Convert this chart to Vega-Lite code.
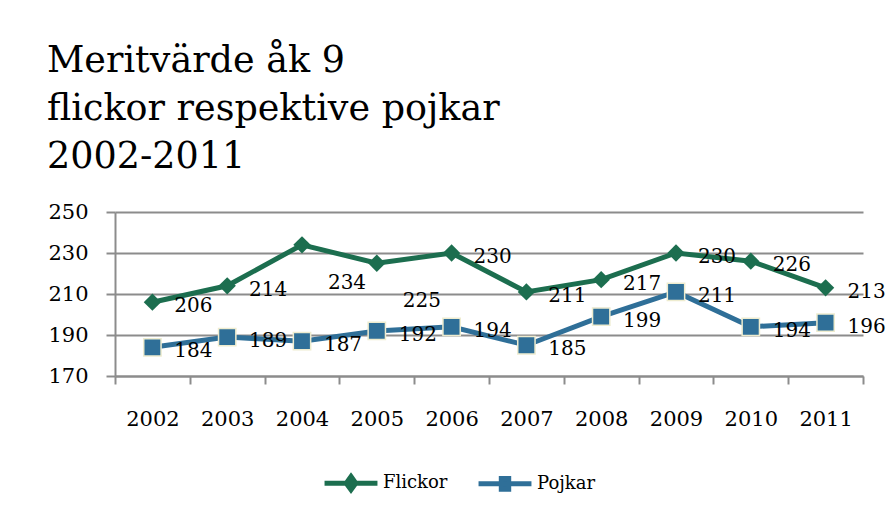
{
  "$schema": "https://vega.github.io/schema/vega-lite/v6.json",
  "autosize": {"type": "none"},
  "width": 748,
  "height": 164,
  "padding": {"left": 115, "top": 212, "right": 23, "bottom": 134},
  "background": "white",
  "title": {
    "text": ["Meritvärde åk 9", "flickor respektive pojkar", "2002-2011"],
    "anchor": "start",
    "frame": "group",
    "dx": -68,
    "offset": 26,
    "font": "DejaVu Serif",
    "fontSize": 36.5,
    "fontWeight": "normal",
    "lineHeight": 48,
    "color": "#000000"
  },
  "data": {
    "values": [
      {"year": "2002", "series": "Flickor", "value": 206},
      {"year": "2003", "series": "Flickor", "value": 214},
      {"year": "2004", "series": "Flickor", "value": 234},
      {"year": "2005", "series": "Flickor", "value": 225},
      {"year": "2006", "series": "Flickor", "value": 230},
      {"year": "2007", "series": "Flickor", "value": 211},
      {"year": "2008", "series": "Flickor", "value": 217},
      {"year": "2009", "series": "Flickor", "value": 230},
      {"year": "2010", "series": "Flickor", "value": 226},
      {"year": "2011", "series": "Flickor", "value": 213},
      {"year": "2002", "series": "Pojkar", "value": 184},
      {"year": "2003", "series": "Pojkar", "value": 189},
      {"year": "2004", "series": "Pojkar", "value": 187},
      {"year": "2005", "series": "Pojkar", "value": 192},
      {"year": "2006", "series": "Pojkar", "value": 194},
      {"year": "2007", "series": "Pojkar", "value": 185},
      {"year": "2008", "series": "Pojkar", "value": 199},
      {"year": "2009", "series": "Pojkar", "value": 211},
      {"year": "2010", "series": "Pojkar", "value": 194},
      {"year": "2011", "series": "Pojkar", "value": 196}
    ]
  },
  "encoding": {
    "x": {
      "field": "year",
      "type": "ordinal",
      "scale": {"type": "band", "paddingInner": 0, "paddingOuter": 0},
      "axis": {
        "title": null,
        "labelAngle": 0,
        "tickBand": "extent",
        "domainColor": "#8c8c8c",
        "domainWidth": 2,
        "tickColor": "#8c8c8c",
        "tickWidth": 2,
        "tickSize": 8,
        "labelPadding": 24,
        "labelFont": "DejaVu Serif",
        "labelFontSize": 21,
        "labelColor": "#000000",
        "grid": false
      }
    },
    "y": {
      "field": "value",
      "type": "quantitative",
      "scale": {"domain": [170, 250], "nice": false, "zero": false},
      "axis": {
        "title": null,
        "values": [170, 190, 210, 230, 250],
        "domainColor": "#8c8c8c",
        "domainWidth": 2,
        "tickColor": "#8c8c8c",
        "tickWidth": 2,
        "tickSize": 9,
        "labelPadding": 18,
        "labelFont": "DejaVu Serif",
        "labelFontSize": 21,
        "labelColor": "#000000",
        "grid": true,
        "gridColor": "#8c8c8c",
        "gridWidth": 2
      }
    },
    "color": {
      "field": "series",
      "type": "nominal",
      "scale": {"domain": ["Flickor", "Pojkar"], "range": ["#1c6e4f", "#2f6f98"]}
    }
  },
  "layer": [
    {
      "mark": {"type": "line", "strokeWidth": 5},
      "encoding": {
        "color": {
          "field": "series",
          "type": "nominal",
          "scale": {"domain": ["Flickor", "Pojkar"], "range": ["#1c6e4f", "#2f6f98"]},
          "legend": {
            "title": null,
            "orient": "none",
            "direction": "horizontal",
            "legendX": 207,
            "legendY": 242,
            "symbolType": "M-1,0L1,0M0,-0.25L0.18,0L0,0.25L-0.18,0Z",
            "symbolSize": 2800,
            "symbolStrokeWidth": 5,
            "labelFont": "DejaVu Serif",
            "labelFontSize": 18,
            "labelColor": "#000000",
            "labelOffset": 3,
            "columnPadding": 20,
            "encode": {
              "symbols": {
                "update": {
                  "shape": {"signal": "datum.value === 'Pojkar' ? 'M-1,0L1,0M-0.14,-0.2L0.14,-0.2L0.14,0.2L-0.14,0.2Z' : 'M-1,0L1,0M0,-0.25L0.18,0L0,0.25L-0.18,0Z'"}
                }
              }
            }
          }
        }
      }
    },
    {
      "transform": [{"filter": "datum.series === 'Flickor'"}],
      "mark": {"type": "point", "shape": "diamond", "filled": true, "size": 300, "opacity": 1},
      "encoding": {}
    },
    {
      "transform": [{"filter": "datum.series === 'Pojkar'"}],
      "mark": {"type": "point", "shape": "square", "filled": true, "size": 300, "opacity": 1, "stroke": "#eeeccf", "strokeWidth": 1.5},
      "encoding": {}
    },
    {
      "transform": [{"filter": "!(datum.series === 'Flickor' && (datum.year === '2004' || datum.year === '2005'))"}],
      "mark": {"type": "text", "dx": 41, "dy": 4, "font": "DejaVu Serif", "fontSize": 20, "color": "#000000"},
      "encoding": {"text": {"field": "value", "type": "quantitative"}, "color": {"value": "#000000"}}
    },
    {
      "transform": [{"filter": "datum.series === 'Flickor' && (datum.year === '2004' || datum.year === '2005')"}],
      "mark": {"type": "text", "dx": 45, "dy": 38, "font": "DejaVu Serif", "fontSize": 20, "color": "#000000"},
      "encoding": {"text": {"field": "value", "type": "quantitative"}, "color": {"value": "#000000"}}
    }
  ],
  "config": {
    "view": {"stroke": null}
  }
}
